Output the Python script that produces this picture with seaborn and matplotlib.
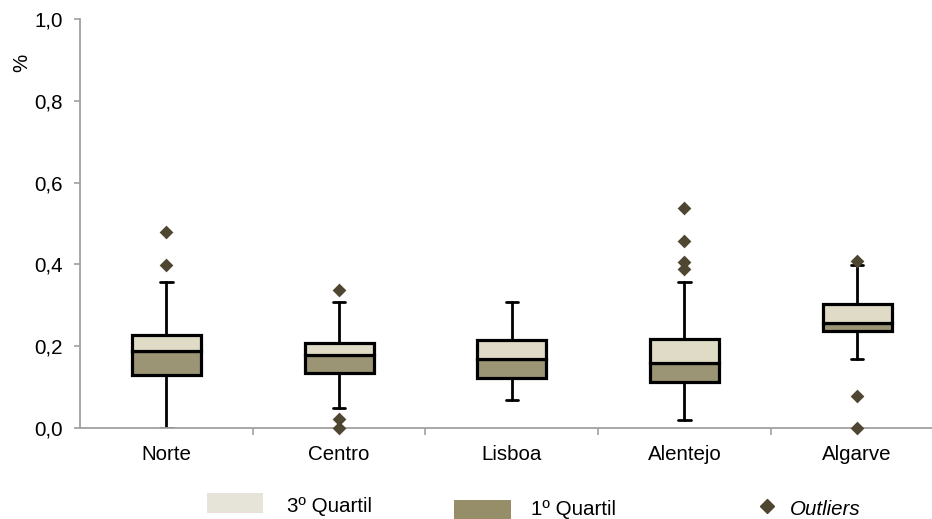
import numpy as np
import pandas as pd
import matplotlib
matplotlib.use("Agg")
import matplotlib.pyplot as plt
import seaborn as sns
from matplotlib.patches import Rectangle
from matplotlib.lines import Line2D
from matplotlib.ticker import FuncFormatter

# values (share, 0-1)
regions = ["Norte", "Centro", "Lisboa", "Alentejo", "Algarve"]
whis_lo = [0.0, 0.048, 0.068, 0.02, 0.169]
q1 = [0.129, 0.135, 0.123, 0.113, 0.238]
median = [0.188, 0.178, 0.168, 0.158, 0.257]
q3 = [0.228, 0.209, 0.215, 0.218, 0.303]
whis_hi = [0.358, 0.308, 0.308, 0.358, 0.398]
outliers = {
    "Norte": [0.478, 0.398],
    "Centro": [0.337, 0.021, 0.0],
    "Lisboa": [],
    "Alentejo": [0.537, 0.457, 0.407, 0.388],
    "Algarve": [0.408, 0.078, 0.0],
}
yticks = [0.0, 0.2, 0.4, 0.6, 0.8, 1.0]

light = "#DFDBC7"
dark = "#9C9575"
out_col = "#4E4630"
grey = "#A0A0A0"
fs = 14.8

sns.set_style("white")
plt.rcParams["font.family"] = ["Liberation Sans", "DejaVu Sans"]
plt.rcParams["text.color"] = "black"
plt.rcParams["xtick.labelcolor"] = "black"
plt.rcParams["ytick.labelcolor"] = "black"

fig = plt.figure(figsize=(9.32, 5.19), dpi=100)
ax = fig.add_axes([80 / 932, 91 / 519, 863.5 / 932, 409 / 519])

# whiskers + caps
stats = []
for i, r in enumerate(regions):
    stats.append(dict(med=median[i], q1=q1[i], q3=q3[i], whislo=whis_lo[i],
                      whishi=whis_hi[i], fliers=[], label=r))
ax.bxp(stats, positions=range(len(regions)), showbox=False, showfliers=False,
       widths=0.4, manage_ticks=False,
       whiskerprops=dict(color="black", linewidth=2),
       capprops=dict(color="black", linewidth=2),
       medianprops=dict(linewidth=0))
# cap length is tied to widths in bxp; shrink them
for ln in ax.lines:
    xd = ln.get_xdata()
    if len(xd) == 2 and xd[0] != xd[1]:
        c = (xd[0] + xd[1]) / 2
        ln.set_xdata([c - 0.036, c + 0.036])

# box halves
lower_h = np.array(median) - np.array(q1)
upper_h = np.array(q3) - np.array(median)
sns.barplot(x=regions, y=lower_h, bottom=q1, order=regions, color=dark,
            width=0.4, errorbar=None, edgecolor="black", linewidth=2.3,
            saturation=1, zorder=3, ax=ax)
sns.barplot(x=regions, y=upper_h, bottom=median, order=regions, color=light,
            width=0.4, errorbar=None, edgecolor="black", linewidth=2.3,
            saturation=1, zorder=3, ax=ax)

# outliers
out_df = pd.DataFrame([(r, v) for r in regions for v in outliers[r]],
                      columns=["region", "value"])
sns.stripplot(data=out_df, x="region", y="value", order=regions, jitter=False,
              marker="D", color=out_col, size=7, linewidth=0, zorder=5,
              clip_on=False, ax=ax)

ax.set_xlim(-0.5, 4.5)
ax.set_ylim(0, 1.0)
ax.set_yticks(yticks)
ax.yaxis.set_major_formatter(FuncFormatter(lambda v, p: f"{v:.1f}".replace(".", ",")))
ax.set_xticks([0.5, 1.5, 2.5, 3.5, 4.5])
ax.set_xticklabels([])
ax.set_xticks(range(len(regions)), minor=True)
ax.set_xticklabels(regions, minor=True)
ax.tick_params(axis="x", which="major", direction="out", length=5, width=1.2,
               color=grey, bottom=True)
ax.tick_params(axis="x", which="minor", length=0, pad=12, labelsize=fs)
ax.tick_params(axis="y", direction="out", length=4.5, width=1.2, color=grey,
               left=True, pad=8, labelsize=fs)
ax.set_xlabel("")
ax.set_ylabel("")
for s in ["top", "right"]:
    ax.spines[s].set_visible(False)
for s in ["left", "bottom"]:
    ax.spines[s].set_color(grey)
    ax.spines[s].set_linewidth(1.3)
ax.set_facecolor("white")

fig.text(22 / 932, 1 - 63 / 519, "%", rotation=90, ha="center", va="center",
         fontsize=fs)

# legend drawn by hand to keep the spread-out layout
fig.add_artist(Rectangle((207 / 932, 1 - 513 / 519), 56 / 932, 20 / 519,
                         facecolor="#E6E3D8", edgecolor="none",
                         transform=fig.transFigure))
fig.text(287 / 932, 1 - 511.5 / 519, "3º Quartil", fontsize=fs, va="baseline")
fig.add_artist(Rectangle((454 / 932, 1 - 520 / 519), 57 / 932, 20 / 519,
                         facecolor="#968E69", edgecolor="none",
                         transform=fig.transFigure))
fig.text(531 / 932, 1 - 515 / 519, "1º Quartil", fontsize=fs, va="baseline")
fig.add_artist(Line2D([767 / 932], [1 - 506 / 519], marker="D", markersize=7,
                      color=out_col, linestyle="none", transform=fig.transFigure))
fig.text(790 / 932, 1 - 515 / 519, "Outliers", fontsize=fs, style="italic",
         va="baseline")

fig.savefig("out.png", dpi=100, facecolor="white")
